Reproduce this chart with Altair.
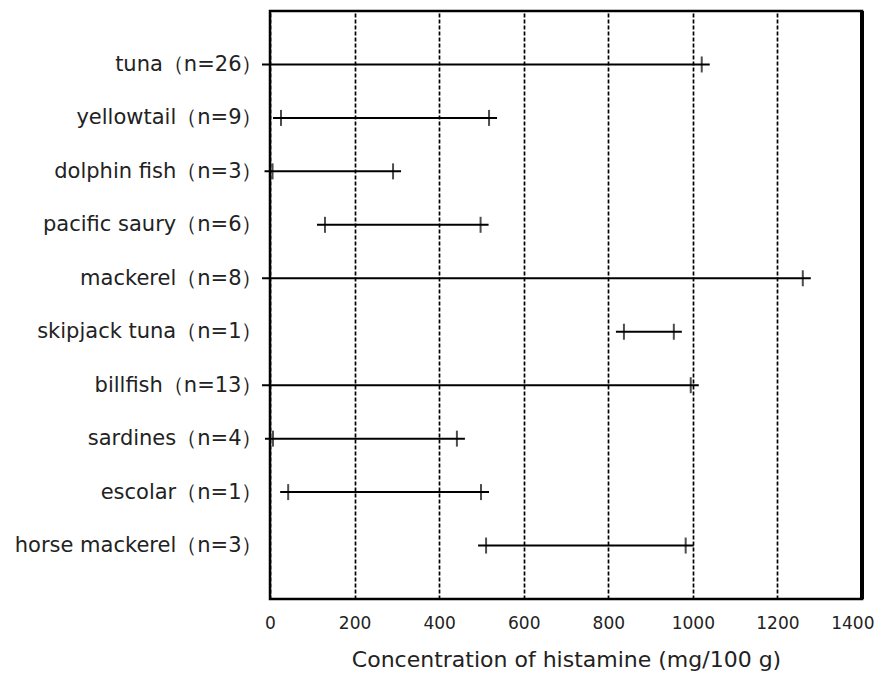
import altair as alt
import pandas as pd

species = ["tuna（n=26）", "yellowtail（n=9）", "dolphin fish（n=3）", "pacific saury（n=6）",
           "mackerel（n=8）", "skipjack tuna（n=1）", "billfish（n=13）", "sardines（n=4）",
           "escolar（n=1）", "horse mackerel（n=3）"]
mins = [0, 26, 6, 130, 0, 837, 0, 7, 43, 511]
maxs = [1021, 518, 291, 498, 1260, 955, 995, 442, 499, 983]
x_ticks = [0, 200, 400, 600, 800, 1000, 1200, 1400]

df = pd.DataFrame({"species": species, "lo": mins, "hi": maxs})

FONT = "DejaVu Sans"
last_test = f"datum.value === {x_ticks[-1]}"

y_enc = alt.Y("species:N", sort=species,
              scale=alt.Scale(type="point", padding=1),
              axis=alt.Axis(title=None, ticks=False, domain=False, grid=False,
                            labelFont=FONT, labelFontSize=21, labelColor="#222",
                            labelPadding=8, labelLimit=400))
x_scale = alt.Scale(domain=[0, 1400], nice=False, zero=True)

rules = alt.Chart(df).mark_rule(color="black", strokeWidth=2, xOffset=-8, x2Offset=8, clip=False).encode(
    x=alt.X("lo:Q", scale=x_scale,
            axis=alt.Axis(title="Concentration of histamine (mg/100 g)", values=x_ticks, format="d",
                          grid=True, gridColor="black", gridDash=[4, 2], gridWidth=1.7, gridOpacity=1,
                          ticks=False, domain=False, labelFont=FONT, labelFontSize=17,
                          labelFlush=False, labelOverlap=False,
                          labelAlign={"condition": {"test": last_test, "value": "right"}, "value": "center"},
                          labelOffset={"condition": {"test": last_test, "value": 12}, "value": 0},
                          labelColor="#222", labelPadding=16, titleFont=FONT, titleFontSize=22,
                          titleFontWeight="normal", titleColor="#222", titlePadding=18)),
    x2="hi:Q",
    y=y_enc,
)
lo_caps = alt.Chart(df).mark_tick(color="black", orient="vertical", size=16, thickness=2, clip=False).encode(
    x=alt.X("lo:Q", scale=x_scale), y=alt.Y("species:N", sort=species))
hi_caps = alt.Chart(df).mark_tick(color="black", orient="vertical", size=16, thickness=2, clip=False).encode(
    x=alt.X("hi:Q", scale=x_scale), y=alt.Y("species:N", sort=species))
right_edge = alt.Chart(df).mark_rule(color="black", strokeWidth=4).encode(
    x=alt.datum(x_ticks[-1], scale=x_scale))

chart = alt.layer(rules, lo_caps, hi_caps, right_edge).properties(
    width=592, height=588,
    background="white",
    autosize=alt.AutoSizeParams(type="none"),
    padding={"left": 262, "top": 3, "right": 12, "bottom": 77},
).configure_view(stroke="black", strokeWidth=2.5)

chart.save("out.html", embed_options={"renderer": "svg", "actions": False})
